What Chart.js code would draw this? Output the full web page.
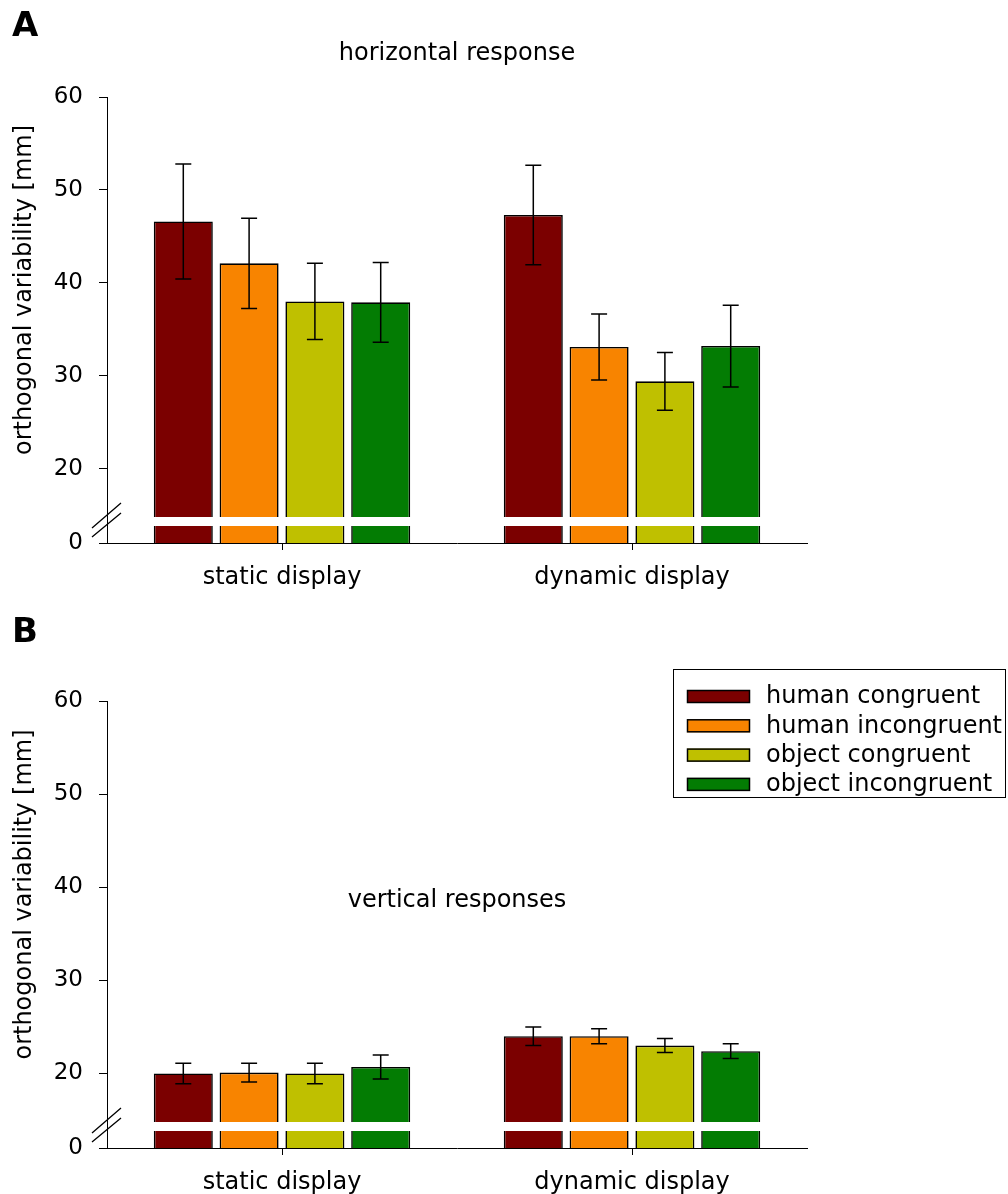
<!DOCTYPE html>
<html><head><meta charset="utf-8">
<script src="https://cdn.jsdelivr.net/npm/chart.js@4.4.0/dist/chart.umd.min.js"></script>
<style>
html,body{margin:0;padding:0;background:#fff;width:1008px;height:1194px;overflow:hidden}
canvas{position:absolute;left:0}
#cA{top:0}
#cB{top:597px}
</style></head><body>
<canvas id="cA" width="1008" height="597"></canvas>
<canvas id="cB" width="1008" height="597"></canvas>
<script>
// ---------- data ----------
const categories = ['static display', 'dynamic display'];
const seriesNames = ['human congruent', 'human incongruent', 'object congruent', 'object incongruent'];
const seriesColors = ['#7b0000', '#f88400', '#bfc000', '#037c03'];

// Panel A: horizontal response (means, SE) per series: [static, dynamic]
const horizHumanCongruent     = [46.6, 47.3];
const horizHumanIncongruent   = [42.1, 33.1];
const horizObjectCongruent    = [38.0, 29.4];
const horizObjectIncongruent  = [37.9, 33.2];
const horizErrHumanCongruent    = [6.2, 5.35];
const horizErrHumanIncongruent  = [4.85, 3.55];
const horizErrObjectCongruent   = [4.1, 3.1];
const horizErrObjectIncongruent = [4.3, 4.4];

// Panel B: vertical responses
const vertHumanCongruent     = [20.0, 24.0];
const vertHumanIncongruent   = [20.1, 24.0];
const vertObjectCongruent    = [20.0, 23.0];
const vertObjectIncongruent  = [20.7, 22.4];
const vertErrHumanCongruent    = [1.1, 1.0];
const vertErrHumanIncongruent  = [1.0, 0.8];
const vertErrObjectCongruent   = [1.1, 0.75];
const vertErrObjectIncongruent = [1.3, 0.8];

// broken axis: the bottom of the axis stands for 0
const AXIS_BASE = 12;
const yTickValues = [AXIS_BASE, 20, 30, 40, 50, 60];
const yTickLabels = ['0', '20', '30', '40', '50', '60'];
const yAxisTitle = 'orthogonal variability [mm]';

const FONT = 'DejaVu Sans';

// ---------- plugins ----------
const errorBarPlugin = {
  id: 'errorBars',
  afterDatasetsDraw(chart) {
    const ctx = chart.ctx, y = chart.scales.y;
    ctx.save();
    ctx.strokeStyle = '#000';
    ctx.lineWidth = 1.5;
    chart.data.datasets.forEach((ds, di) => {
      const meta = chart.getDatasetMeta(di);
      meta.data.forEach((bar, i) => {
        const v = ds.data[i], e = ds.errors[i];
        const x = bar.x;
        const yt = y.getPixelForValue(v + e), yb = y.getPixelForValue(v - e);
        ctx.beginPath();
        ctx.moveTo(x, yt); ctx.lineTo(x, yb);
        ctx.moveTo(x - 8, yt); ctx.lineTo(x + 8, yt);
        ctx.moveTo(x - 8, yb); ctx.lineTo(x + 8, yb);
        ctx.stroke();
      });
    });
    ctx.restore();
  }
};

const breakPlugin = {
  id: 'axisBreak',
  afterDatasetsDraw(chart) {
    const ctx = chart.ctx, a = chart.chartArea;
    ctx.save();
    ctx.fillStyle = '#fff';
    ctx.fillRect(a.left + 1.5, a.bottom - 26, a.right - a.left - 1.5, 9);
    ctx.strokeStyle = '#000';
    ctx.lineWidth = 1.3;
    ctx.beginPath();
    ctx.moveTo(a.left - 15, a.bottom - 15); ctx.lineTo(a.left + 14, a.bottom - 40);
    ctx.moveTo(a.left - 15, a.bottom - 6);  ctx.lineTo(a.left + 14, a.bottom - 30);
    ctx.stroke();
    ctx.restore();
  }
};

const decoPlugin = {
  id: 'deco',
  afterDraw(chart, args, opts) {
    const ctx = chart.ctx, a = chart.chartArea;
    ctx.save();
    ctx.fillStyle = '#000';
    // panel letter
    ctx.font = 'bold 34px "' + FONT + '"';
    ctx.textAlign = 'left';
    ctx.textBaseline = 'alphabetic';
    ctx.fillText(opts.letter, 12, opts.letterY);
    // y axis title
    ctx.save();
    ctx.font = '24px "' + FONT + '"';
    ctx.textAlign = 'center';
    ctx.textBaseline = 'middle';
    ctx.translate(24.5, (a.top + a.bottom) / 2 - 30);
    ctx.rotate(-Math.PI / 2);
    ctx.fillText(yAxisTitle, 0, 0);
    ctx.restore();
    // inner title
    if (opts.innerTitle) {
      ctx.font = '24px "' + FONT + '"';
      ctx.textAlign = 'center';
      ctx.textBaseline = 'middle';
      ctx.fillText(opts.innerTitle, (a.left + a.right) / 2, a.top + opts.innerTitleOffset);
    }
    // legend
    if (opts.legend) {
      ctx.strokeStyle = '#000';
      ctx.lineWidth = 1;
      ctx.strokeRect(673.5, 72.5, 332, 128);
      ctx.font = '24px "' + FONT + '"';
      ctx.textAlign = 'left';
      ctx.textBaseline = 'middle';
      chart.data.datasets.forEach((ds, i) => {
        const top = 93 + i * 29.3;
        ctx.fillStyle = ds.backgroundColor;
        ctx.fillRect(687, top, 63, 13);
        ctx.strokeStyle = '#000';
        ctx.lineWidth = 1.5;
        ctx.strokeRect(687.5, top + 0.5, 62, 12);
        ctx.fillStyle = '#000';
        ctx.fillText(ds.label, 766, top + 7);
      });
    }
    ctx.restore();
  }
};

// ---------- chart factory ----------
function makeConfig(panel) {
  return {
    type: 'bar',
    data: {
      labels: categories,
      datasets: seriesNames.map((n, i) => ({
        label: n,
        data: panel.means[i],
        errors: panel.errs[i],
        backgroundColor: seriesColors[i],
        borderColor: '#000',
        borderWidth: 1.6,
        borderSkipped: false,
        categoryPercentage: 0.752,
        barPercentage: 0.897
      }))
    },
    options: {
      responsive: false,
      animation: false,
      devicePixelRatio: 1,
      layout: { padding: { left: 0, right: 201, top: panel.padTop, bottom: 0 } },
      plugins: {
        legend: { display: false },
        tooltip: { enabled: false },
        title: panel.title ? {
          display: true, text: panel.title, fullSize: false, color: '#000',
          font: { family: FONT, size: 24, weight: 'normal' },
          padding: { top: 39.6, bottom: 28.6 }
        } : { display: false },
        deco: panel.deco
      },
      scales: {
        x: {
          grid: { display: true, drawOnChartArea: false, offset: false, tickLength: 7, color: '#000', lineWidth: 1 },
          border: { display: true, color: '#000', width: 1 },
          ticks: { color: '#000', font: { family: FONT, size: 24 }, padding: 13, maxRotation: 0 },
          afterFit: (s) => { s.height = panel.xAxisH; }
        },
        y: {
          min: AXIS_BASE, max: 60,
          afterBuildTicks: (s) => { s.ticks = yTickValues.map(v => ({ value: v })); },
          ticks: {
            color: '#000', font: { family: FONT, size: 23 }, padding: 16,
            callback: (v) => yTickLabels[yTickValues.indexOf(v)]
          },
          grid: { display: true, drawOnChartArea: false, tickLength: 8, color: '#000', lineWidth: 1 },
          border: { display: true, color: '#000', width: 1 },
          title: { display: false },
          afterFit: (s) => { s.width = 107; }
        }
      }
    },
    plugins: [errorBarPlugin, breakPlugin, decoPlugin]
  };
}

new Chart(document.getElementById('cA'), makeConfig({
  means: [horizHumanCongruent, horizHumanIncongruent, horizObjectCongruent, horizObjectIncongruent],
  errs: [horizErrHumanCongruent, horizErrHumanIncongruent, horizErrObjectCongruent, horizErrObjectIncongruent],
  padTop: 0,
  title: 'horizontal response',
  xAxisH: 54,
  deco: { letter: 'A', letterY: 36 }
}));

new Chart(document.getElementById('cB'), makeConfig({
  means: [vertHumanCongruent, vertHumanIncongruent, vertObjectCongruent, vertObjectIncongruent],
  errs: [vertErrHumanCongruent, vertErrHumanIncongruent, vertErrObjectCongruent, vertErrObjectIncongruent],
  padTop: 104,
  title: null,
  xAxisH: 46,
  deco: { letter: 'B', letterY: 45, innerTitle: 'vertical responses', innerTitleOffset: 200, legend: true }
}));
</script>
</body></html>
